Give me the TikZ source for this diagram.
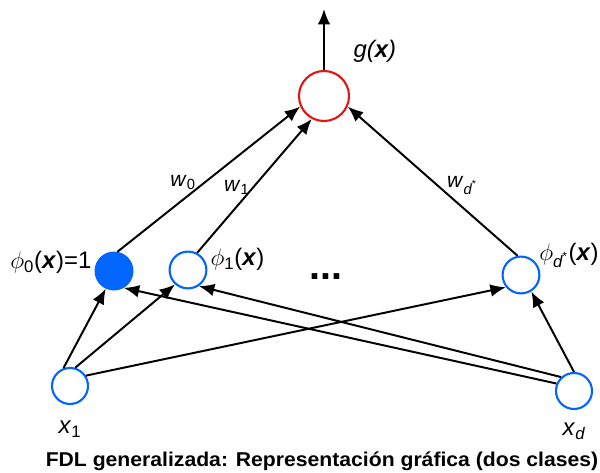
\documentclass[tikz,border=0pt]{standalone}
\usepackage{fix-cm}
\usepackage{amsmath}
\usepackage{fontspec}
\setmainfont{Liberation Sans}
\newfontfamily\capfont[FakeStretch=1.06]{Liberation Sans}
\usetikzlibrary{arrows.meta, positioning}

\definecolor{unitblue}{RGB}{0,102,255}
\definecolor{unitred}{RGB}{230,20,20}

\newcommand{\bx}{\textbf{\textit{x}}}

\begin{document}
\begin{tikzpicture}[x=0.025cm, y=-0.025cm,
    unit/.style={circle, draw=unitblue, line width=1.5pt, minimum size=0.92cm, inner sep=0pt},
    bias/.style={unit, fill=unitblue},
    output/.style={circle, draw=unitred, line width=1.5pt, minimum size=1.25cm, inner sep=0pt},
    conn/.style={line width=1.4pt, -{Latex[length=11pt, width=9pt]}},
    lbl/.style={font=\fontsize{17}{20}\selectfont, inner sep=2pt},
    wlbl/.style={font=\fontsize{15}{18}\selectfont, inner sep=2pt}]
  \useasboundingbox (0,0) rectangle (600,473);

  % output unit
  \node[output] (g) at (324,96) {};
  \coordinate (out) at (324,9);
  \node[lbl] (gx) [above right=0.3cm and 0.2cm of g] {\textit{g(\bx)}};

  % hidden layer
  \node[bias] (phi0) at (114,271) {};
  \node[unit] (phi1) at (188,270) {};
  \node[unit] (phid) at (521,275) {};
  \node[font=\fontsize{28}{30}\selectfont\bfseries] (dots) at (326,277) {...};
  \node[lbl] (lphi0) [left=0pt of phi0, yshift=0.21cm] {$\phi_{\text{0}}$(\bx)=1};
  \node[lbl] (lphi1) [right=0pt of phi1, yshift=0.26cm] {$\phi_{\text{1}}$(\bx)};
  \node[lbl, inner sep=1pt] (lphid) [right=-2pt of phid, yshift=0.49cm] {$\phi_{\textit{d}^{\text{*}}}$(\bx)};

  % inputs
  \node[unit, minimum size=0.9cm] (x1) at (70,386) {};
  \node[unit, minimum size=0.9cm] (xd) at (574,391) {};
  \node[lbl] (lx1) [below=0.33cm of x1] {\textit{x}$_{\text{1}}$};
  \node[lbl] (lxd) [below=0.25cm of xd] {\textit{x}$_{\textit{d}}$};

  % weights into g
  \draw[conn] (g.north) -- (out);
  \draw[conn] (phi0.80) -- node[wlbl, pos=0.48, left=4pt] {\textit{w}$_{\text{0}}$} (g.204);
  \draw[conn] (phi1.62) -- node[wlbl, pos=0.49, left=0pt] {\textit{w}$_{\text{1}}$} (g.242);
  \draw[conn] (phid.100) -- node[wlbl, pos=0.47, right=4pt] {\textit{w}$_{\textit{d}^{\text{*}}}$} (g.336);

  % inputs to basis functions
  \draw[conn] (x1.110) -- (phi0.245);
  \draw[conn] (x1.74) -- (phi1.228);
  \draw[conn] (x1.33) -- (phid.219);
  \draw[conn] (xd.157) -- (phi0.300);
  \draw[conn] (xd.133) -- (phi1.304);
  \draw[conn] (xd.90) -- (phid.302);

  \node (caption) at (322,461) {\capfont\bfseries\fontsize{14.2}{16}\selectfont FDL generalizada: Representación gráfica (dos clases)};
\end{tikzpicture}
\end{document}
